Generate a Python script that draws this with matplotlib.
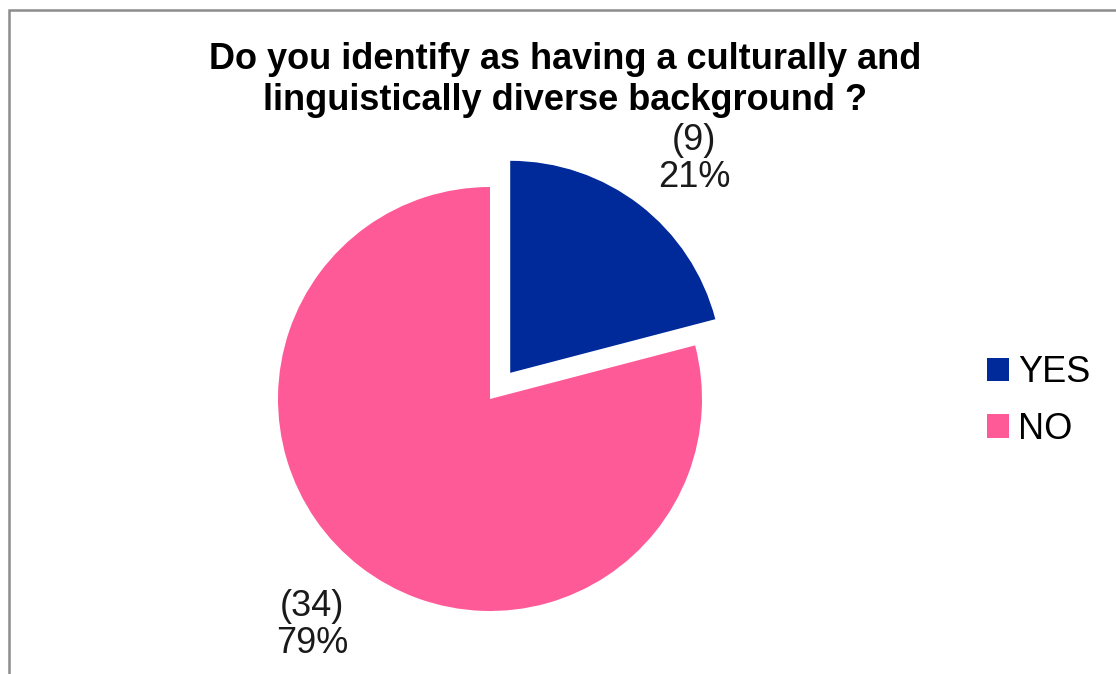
import matplotlib
matplotlib.use("Agg")
import matplotlib.pyplot as plt
from matplotlib.patches import Rectangle

plt.rcParams["font.family"] = ["Liberation Sans", "DejaVu Sans"]

# Survey responses
answers = ["YES", "NO"]
counts = [9, 34]
colors = ["#00299A", "#FF5A98"]
explode = [0.156, 0.0]

W, H = 1116, 674
fig = plt.figure(figsize=(W / 100, H / 100), dpi=100)

# Pie axes placed so the pie centre sits left of the legend
R = 212
lim = 1.6
side = 2 * lim * R
cx, cy = 490, H - 399
ax = fig.add_axes([(cx - side / 2) / W, (cy - side / 2) / H, side / W, side / H])

total = sum(counts)


def fmt(pct):
    n = int(round(pct * total / 100.0))
    return f"({n})\n{pct:.0f}%"


wedges, _, autotexts = ax.pie(
    counts,
    colors=colors,
    explode=explode,
    startangle=90,
    counterclock=False,
    autopct=fmt,
    pctdistance=1.34,
    textprops={"fontsize": 26, "color": "#1a1a1a", "linespacing": 1.07},
    wedgeprops={"linewidth": 0},
)
# nudge the value labels a little off the mid-angle
label_shift = [(0.05, -0.05), (-0.02, -0.005)]
for w, t, (dx, dy) in zip(wedges, autotexts, label_shift):
    w.set_clip_on(False)
    x, y = t.get_position()
    t.set_position((x + dx, y + dy))
ax.set_xlim(-lim, lim)
ax.set_ylim(-lim, lim)
ax.set_aspect("equal")
ax.axis("off")

fig.text(
    565 / W, 1 - 80 / H,
    "Do you identify as having a culturally and\nlinguistically diverse background ?",
    ha="center", va="center", fontsize=26, fontweight="bold", linespacing=1.22,
)

fig.legend(
    wedges, answers,
    loc="center left", bbox_to_anchor=(954 / W, 1 - 401 / H),
    frameon=False, fontsize=26, handlelength=0.62, handleheight=0.62,
    handletextpad=0.25, labelspacing=0.6,
)

# Outer frame (only the top and left edges fall inside the image)
fig.patches.append(Rectangle((9 / W, -0.2), 1.2, (H - 10) / H + 0.2,
                             transform=fig.transFigure, fill=False,
                             edgecolor="#8c8c8c", linewidth=1.8))

fig.savefig("out.png", dpi=100)
